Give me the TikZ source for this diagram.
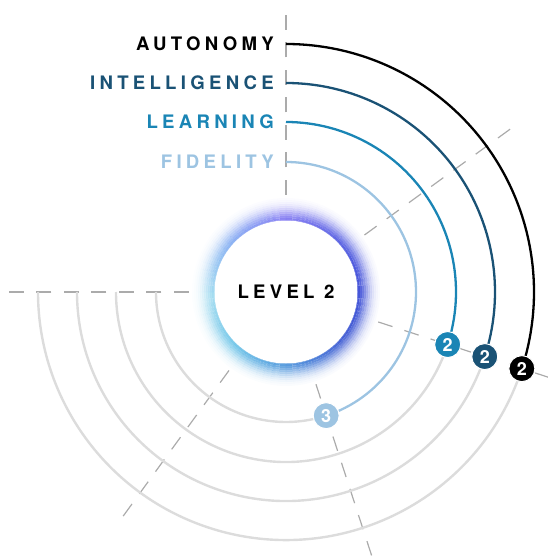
\documentclass[tikz,border=0pt]{standalone}
\usepackage{fontspec}
\usepackage{xcolor}
\usetikzlibrary{positioning}
\newfontfamily\lblfont[LetterSpace=23]{TeX Gyre Heros}
\newfontfamily\numfont{TeX Gyre Heros}
\definecolor{autcol}{HTML}{000000}
\definecolor{intcol}{HTML}{1A5275}
\definecolor{lrncol}{HTML}{1A85B5}
\definecolor{fidcol}{HTML}{9DC4E2}
\definecolor{trackcol}{HTML}{DCDCDC}
\definecolor{raycol}{HTML}{ABABAB}
% glow colours, every 45 degrees from the right
\definecolor{glow0}{HTML}{3B4BD6}
\definecolor{glow1}{HTML}{4A52E0}
\definecolor{glow2}{HTML}{6A60F0}
\definecolor{glow3}{HTML}{5A90EE}
\definecolor{glow4}{HTML}{7CCDEA}
\definecolor{glow5}{HTML}{4CB6E2}
\definecolor{glow6}{HTML}{3F8AD8}
\definecolor{glow7}{HTML}{3C5AD2}
\definecolor{glow8}{HTML}{3B4BD6}
\begin{document}
\begin{tikzpicture}[x=1pt, y=1pt,
    lbl/.style={inner sep=0pt, font=\lblfont\bfseries\fontsize{18.6}{20}\selectfont, anchor=east},
    arcline/.style={line width=2.3pt},
    trackline/.style={trackcol, line width=2.4pt},
    ray/.style={raycol, line width=1.2pt, dash pattern=on 15pt off 12.5pt},
    badge/.style={circle, draw=white, line width=1pt, minimum size=26pt, inner sep=0pt, text=white, font=\numfont\bfseries\fontsize{18}{18}\selectfont}]
    \useasboundingbox (-286,-268) rectangle (262,292);

    % dashed rays
    \foreach \a in {90,36,...,-180}
        \draw[ray] (\a:97pt) -- (\a:281pt);

    % arc start points
    \coordinate (auttop) at (0,248);
    \coordinate (inttop) at (0,209);
    \coordinate (lrntop) at (0,170);
    \coordinate (fidtop) at (0,130);

    % level markers
    \coordinate (autbadge) at (-18:248pt);
    \coordinate (intbadge) at (-18:209pt);
    \coordinate (lrnbadge) at (-18:170pt);
    \coordinate (fidbadge) at (-72:130pt);

    % grey tracks
    \draw[trackline] (autbadge) arc[start angle=-18, end angle=-180, radius=248pt];
    \draw[trackline] (intbadge) arc[start angle=-18, end angle=-180, radius=209pt];
    \draw[trackline] (lrnbadge) arc[start angle=-18, end angle=-180, radius=170pt];
    \draw[trackline] (fidbadge) arc[start angle=-72, end angle=-180, radius=130pt];

    % coloured arcs
    \draw[arcline, autcol] (auttop) arc[start angle=90, end angle=-18, radius=248pt];
    \draw[arcline, intcol] (inttop) arc[start angle=90, end angle=-18, radius=209pt];
    \draw[arcline, lrncol] (lrntop) arc[start angle=90, end angle=-18, radius=170pt];
    \draw[arcline, fidcol] (fidtop) arc[start angle=90, end angle=-72, radius=130pt];

    \node (autnum) [badge, fill=autcol] at (autbadge) {2};
    \node (intnum) [badge, fill=intcol] at (intbadge) {2};
    \node (lrnnum) [badge, fill=lrncol] at (lrnbadge) {2};
    \node (fidnum) [badge, fill=fidcol] at (fidbadge) {3};

    % labels
    \node (autlbl) [lbl, text=autcol, left=12pt of auttop] {AUTONOMY};
    \node (intlbl) [lbl, text=intcol, left=12pt of inttop] {INTELLIGENCE};
    \node (lrnlbl) [lbl, text=lrncol, left=12pt of lrntop] {LEARNING};
    \node (fidlbl) [lbl, text=fidcol, left=12pt of fidtop] {FIDELITY};

    % glow ring
    \foreach \a in {0,5,...,355} {
        \pgfmathtruncatemacro\k{\a/45}
        \pgfmathtruncatemacro\kn{\k+1}
        \pgfmathtruncatemacro\p{100-(\a-45*\k)*100/45}
        \pgfmathsetmacro\w{0.85+0.15*cos(\a+20)}
        \colorlet{segcol}{glow\k!\p!glow\kn}
        \foreach \r/\o in {71/1, 73/0.95, 75/0.85, 77/0.72, 79/0.58, 81/0.45, 83/0.33, 85/0.23, 87/0.15, 89/0.09, 91/0.05, 93/0.025} {
            \pgfmathsetmacro\op{\o*\w}
            \draw[segcol, line width=2pt, opacity=\op] (\a:\r pt) arc[start angle=\a, end angle=\a+5, radius=\r pt];
        }
    }
    \node (core) [circle, fill=white, minimum size=143pt, inner sep=0pt, font=\lblfont\bfseries\fontsize{18.6}{20}\selectfont] at (0,0) {LEVEL 2};
\end{tikzpicture}
\end{document}
